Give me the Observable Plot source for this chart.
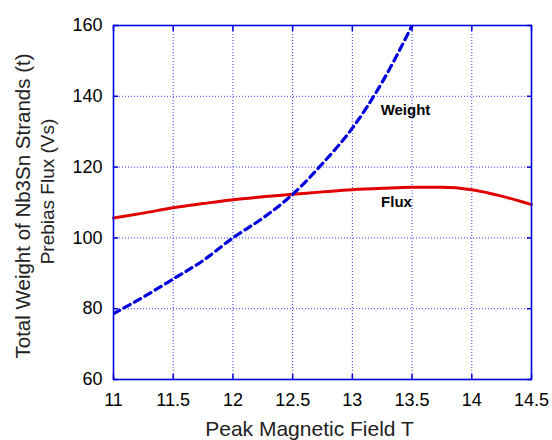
<!DOCTYPE html>
<html>
<head>
<meta charset="utf-8">
<script src="https://cdn.jsdelivr.net/npm/d3@7"></script>
<script src="https://cdn.jsdelivr.net/npm/@observablehq/plot@0.6"></script>
<style>
  html, body { margin: 0; padding: 0; background: #fff; }
  #chart svg { display: block; }
</style>
</head>
<body>
<div id="chart"></div>
<script>
// Peak magnetic field (T)
const fieldT = [11, 11.25, 11.5, 11.75, 12, 12.25, 12.5, 12.75, 13, 13.25, 13.5, 13.75, 14, 14.25, 14.5];
// Total weight of Nb3Sn strands (t) – dashed blue
const weightField = [11, 11.25, 11.5, 11.75, 12, 12.25, 12.5, 12.75, 13, 13.25, 13.5];
const weight = [78.6, 83.3, 88.4, 93.6, 100, 105.6, 112.3, 121, 131, 144, 160];
// Prebias flux (Vs) – solid red
const flux = [105.6, 107.0, 108.5, 109.7, 110.8, 111.6, 112.3, 113.0, 113.6, 114.0, 114.3, 114.3, 113.6, 111.8, 109.4];
// Axis ticks
const xTicks = [11, 11.5, 12, 12.5, 13, 13.5, 14, 14.5];
const yTicks = [60, 80, 100, 120, 140, 160];
// In-plot labels
const labelText = ["Weight", "Flux"];
const labelX = [13.445, 13.37];
const labelY = [136.1, 110];
// Axis titles
const xTitle = "Peak Magnetic Field T";
const yTitle1 = "Total Weight of Nb3Sn Strands (t)";
const yTitle2 = "Prebias Flux (Vs)";

const weightData = weightField.map((x, i) => ({x, y: weight[i]}));
const fluxData = fieldT.map((x, i) => ({x, y: flux[i]}));
const labelData = labelText.map((t, i) => ({t, x: labelX[i], y: labelY[i]}));

const blue = "#0000dd";
const gridBlue = "#3a3aff";

const chart = Plot.plot({
  width: 552,
  height: 440,
  marginLeft: 113,
  marginRight: 21,
  marginTop: 25,
  marginBottom: 61,
  style: {fontFamily: "'Liberation Sans', Arial, sans-serif", color: "#000", background: "#fff"},
  x: {domain: [11, 14.5]},
  y: {domain: [60, 160]},
  marks: [
    Plot.gridX(xTicks, {stroke: gridBlue, strokeOpacity: 1, strokeWidth: 1, strokeDasharray: "1,2"}),
    Plot.gridY(yTicks, {stroke: gridBlue, strokeOpacity: 1, strokeWidth: 1, strokeDasharray: "1,2"}),
    Plot.axisX(xTicks, {anchor: "bottom", tickSize: 0, tickPadding: 14, fontSize: 18, label: null, tickFormat: d => String(d)}),
    Plot.axisY(yTicks, {anchor: "left", tickSize: 0, tickPadding: 11, fontSize: 18, label: null, tickFormat: d => String(d)}),
    Plot.axisX(xTicks, {anchor: "bottom", tickSize: -5, tickFormat: () => "", stroke: blue, strokeWidth: 1.5, label: null}),
    Plot.axisX(xTicks, {anchor: "top", tickSize: -5, tickFormat: () => "", stroke: blue, strokeWidth: 1.5, label: null}),
    Plot.axisY(yTicks, {anchor: "left", tickSize: -5, tickFormat: () => "", stroke: blue, strokeWidth: 1.5, label: null}),
    Plot.axisY(yTicks, {anchor: "right", tickSize: -5, tickFormat: () => "", stroke: blue, strokeWidth: 1.5, label: null}),
    Plot.line(fluxData, {x: "x", y: "y", stroke: "#e00000", strokeWidth: 3, curve: "monotone-x"}),
    Plot.line(weightData, {x: "x", y: "y", stroke: blue, strokeWidth: 3.2, strokeDasharray: "7,5", curve: "monotone-x", clip: true}),
    Plot.text(labelData, {x: "x", y: "y", text: "t", fontSize: 15, fontWeight: "bold", fill: "#000", textAnchor: "middle"}),
    Plot.frame({stroke: blue, strokeWidth: 1.6}),
    Plot.text([xTitle], {frameAnchor: "bottom", dx: -13, dy: 50, fontSize: 21, fill: "#222", lineAnchor: "middle"}),
    Plot.text([yTitle1], {frameAnchor: "left", dx: -90, dy: 3.5, rotate: -90, fontSize: 20.5, fill: "#222", lineAnchor: "middle", textAnchor: "middle"}),
    Plot.text([yTitle2], {frameAnchor: "left", dx: -66, dy: -11, rotate: -90, fontSize: 19, fill: "#222", lineAnchor: "middle", textAnchor: "middle"})
  ]
});
document.getElementById("chart").appendChild(chart);
</script>
</body>
</html>
